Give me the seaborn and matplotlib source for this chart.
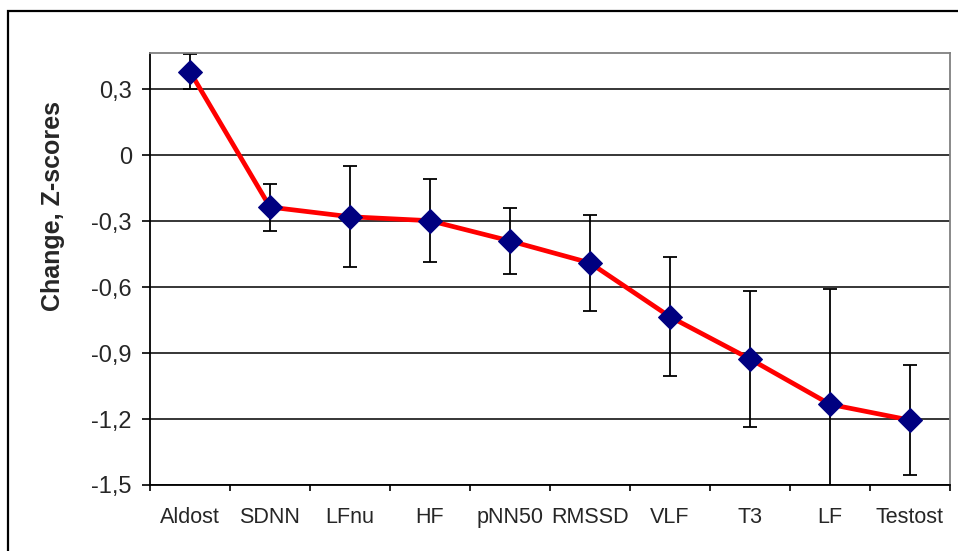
import matplotlib
matplotlib.use("Agg")
import matplotlib.pyplot as plt
from matplotlib.patches import Rectangle
import seaborn as sns
import numpy as np

categories = ["Aldost", "SDNN", "LFnu", "HF", "pNN50", "RMSSD", "VLF", "T3", "LF", "Testost"]
change = [0.38, -0.236, -0.28, -0.298, -0.39, -0.49, -0.735, -0.927, -1.133, -1.205]
err = [0.08, 0.107, 0.23, 0.19, 0.15, 0.22, 0.27, 0.31, 0.525, 0.25]
yticks = [-1.5, -1.2, -0.9, -0.6, -0.3, 0, 0.3]
ytick_labels = ["-1,5", "-1,2", "-0,9", "-0,6", "-0,3", "0", "0,3"]

sns.set_style("white")
plt.rcParams['font.family'] = ['Liberation Sans', 'DejaVu Sans']

fig = plt.figure(figsize=(9.58, 5.51), dpi=100)
ax = fig.add_axes([150 / 958, 1 - 485 / 551, 800 / 958, (485 - 52.5) / 551])

x = np.arange(len(categories))

# barres d'erreur derriere la courbe
ax.errorbar(x, change, yerr=err, fmt='none', ecolor='black', elinewidth=1.3,
            capsize=4.8, capthick=1.3, zorder=2)

sns.lineplot(x=x, y=change, ax=ax, color='#ff0000', linewidth=3.4, marker='D',
             markersize=12.5, markerfacecolor='#000080', markeredgecolor='#000080',
             zorder=3)

ax.set_xlim(-0.5, len(categories) - 0.5)
ax.set_ylim(-1.5, 0.467)

ax.set_yticks(yticks)
ax.set_yticklabels(ytick_labels, fontsize=17)
ax.set_xticks(x)
ax.set_xticklabels(categories, fontsize=15.5)
ax.set_xticks(np.arange(-0.5, len(categories)), minor=True)

ax.tick_params(axis='x', which='major', length=0, pad=16)
ax.tick_params(axis='x', which='minor', length=4, width=1.2, color='black', direction='out', bottom=True)
ax.tick_params(axis='y', length=6, width=1.2, color='black', direction='out', pad=7, left=True)

ax.grid(axis='y', color='black', linewidth=1.1)
ax.set_axisbelow(True)

for side in ['left', 'bottom']:
    ax.spines[side].set_color('black')
    ax.spines[side].set_linewidth(1.3)
for side in ['top', 'right']:
    ax.spines[side].set_color('#808080')
    ax.spines[side].set_linewidth(1.3)

ax.set_xlabel('')
ax.set_ylabel('')
fig.text(53 / 958, 1 - 206 / 551, 'Change, Z-scores', rotation=90, ha='center', va='center',
         fontsize=18, fontweight='bold')

# cadre exterieur
fig.add_artist(Rectangle((7.5 / 958, -0.2), 2, 1.2 - 10.5 / 551, transform=fig.transFigure,
                         fill=False, edgecolor='black', linewidth=1.6))

fig.savefig("out.png", dpi=100)
